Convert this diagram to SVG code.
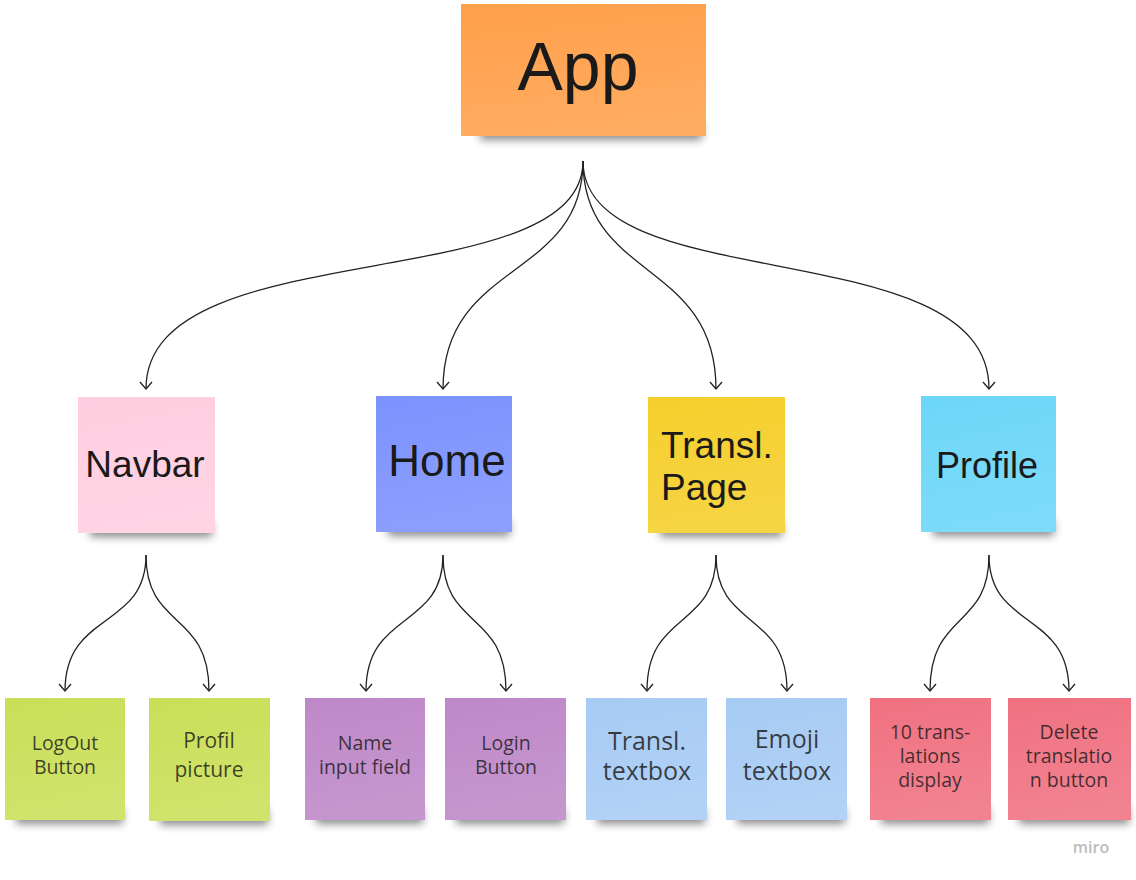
<svg xmlns="http://www.w3.org/2000/svg" width="1136" height="880" viewBox="0 0 1136 880">
<style>
.big{font-family:"Liberation Sans",Arial,sans-serif;fill:#1a1a1a}
.sm{font-family:"Open Sans","Noto Sans",sans-serif;fill:#1a1a1a;fill-opacity:0.82;text-anchor:middle}
.conn{fill:none;stroke:#222;stroke-width:1.3}
.shadow{fill:#000;opacity:0.45;filter:url(#blur)}
.sheen{fill:url(#sheen)}
</style>
<defs>
<filter id="blur" x="-20%" y="-100%" width="140%" height="300%"><feGaussianBlur stdDeviation="4"/></filter>
<linearGradient id="sheen" x1="0" y1="0" x2="0.2" y2="1">
<stop offset="0" stop-color="#fff" stop-opacity="0"/>
<stop offset="1" stop-color="#fff" stop-opacity="0.12"/>
</linearGradient>
<marker id="arr" markerUnits="userSpaceOnUse" markerWidth="16" markerHeight="16" viewBox="-9 -8 10 16" refX="0" refY="0" orient="auto">
<path d="M-7,-6 L0,0 L-7,6" fill="none" stroke="#222" stroke-width="1.3"/>
</marker>
</defs>
<rect width="1136" height="880" fill="#fff"/>

<g id="connectors">
<path class="conn" marker-end="url(#arr)" d="M583,161 C583,300 146,230 146,389"/>
<path class="conn" marker-end="url(#arr)" d="M583,161 C583,280 443,260 443,389"/>
<path class="conn" marker-end="url(#arr)" d="M583,161 C583,280 716,260 716,389"/>
<path class="conn" marker-end="url(#arr)" d="M583,161 C583,300 989,230 989,389"/>
<path class="conn" marker-end="url(#arr)" d="M146,555 C146,630 65,610 65,691"/>
<path class="conn" marker-end="url(#arr)" d="M146,555 C146,630 209,610 209,691"/>
<path class="conn" marker-end="url(#arr)" d="M443,555 C443,630 366,610 366,691"/>
<path class="conn" marker-end="url(#arr)" d="M443,555 C443,630 506,610 506,691"/>
<path class="conn" marker-end="url(#arr)" d="M716,555 C716,630 647,610 647,691"/>
<path class="conn" marker-end="url(#arr)" d="M716,555 C716,630 787,610 787,691"/>
<path class="conn" marker-end="url(#arr)" d="M989,555 C989,630 930,610 930,691"/>
<path class="conn" marker-end="url(#arr)" d="M989,555 C989,630 1069,610 1069,691"/>
</g>

<g id="app">
<rect class="shadow" x="480" y="124" width="222" height="16"/>
<rect x="461" y="4" width="245" height="132" fill="#FFA04B"/>
<rect class="sheen" x="461" y="4" width="245" height="132"/>
<text class="big" x="578" y="90" font-size="68" text-anchor="middle">App</text>
</g>

<g id="navbar">
<rect class="shadow" x="90" y="521" width="122" height="16"/>
<rect x="78" y="397" width="137" height="136" fill="#FFCEE0"/>
<rect class="sheen" x="78" y="397" width="137" height="136"/>
<text class="big" x="145" y="477" font-size="37" text-anchor="middle">Navbar</text>
</g>

<g id="home">
<rect class="shadow" x="388" y="520" width="122" height="16"/>
<rect x="376" y="396" width="136" height="136" fill="#7C92FE"/>
<rect class="sheen" x="376" y="396" width="136" height="136"/>
<text class="big" x="447" y="476" font-size="44" text-anchor="middle">Home</text>
</g>

<g id="transl-page">
<rect class="shadow" x="660" y="521" width="122" height="16"/>
<rect x="648" y="397" width="137" height="136" fill="#F5CF2B"/>
<rect class="sheen" x="648" y="397" width="137" height="136"/>
<text class="big" x="661" y="458" font-size="37">Transl.</text>
<text class="big" x="661" y="500" font-size="37">Page</text>
</g>

<g id="profile">
<rect class="shadow" x="933" y="520" width="121" height="16"/>
<rect x="921" y="396" width="135" height="136" fill="#6CD6F9"/>
<rect class="sheen" x="921" y="396" width="135" height="136"/>
<text class="big" x="987" y="478" font-size="36" text-anchor="middle">Profile</text>
</g>

<g id="logout">
<rect class="shadow" x="16" y="808" width="107" height="16"/>
<rect x="5" y="698" width="120" height="122" fill="#CADF58"/>
<rect class="sheen" x="5" y="698" width="120" height="122"/>
<text class="sm" x="65" y="750" font-size="19.5">LogOut</text>
<text class="sm" x="65" y="774" font-size="19.5">Button</text>
</g>

<g id="profil-picture">
<rect class="shadow" x="160" y="809" width="108" height="16"/>
<rect x="149" y="698" width="121" height="123" fill="#CADF58"/>
<rect class="sheen" x="149" y="698" width="121" height="123"/>
<text class="sm" x="209" y="748" font-size="21">Profil</text>
<text class="sm" x="209" y="777" font-size="21">picture</text>
</g>

<g id="name-input">
<rect class="shadow" x="316" y="808" width="107" height="16"/>
<rect x="305" y="698" width="120" height="122" fill="#BE88C8"/>
<rect class="sheen" x="305" y="698" width="120" height="122"/>
<text class="sm" x="365" y="750" font-size="19.5">Name</text>
<text class="sm" x="365" y="774" font-size="19.5">input field</text>
</g>

<g id="login">
<rect class="shadow" x="456" y="808" width="108" height="16"/>
<rect x="445" y="698" width="121" height="122" fill="#BE88C8"/>
<rect class="sheen" x="445" y="698" width="121" height="122"/>
<text class="sm" x="506" y="750" font-size="19.5">Login</text>
<text class="sm" x="506" y="774" font-size="19.5">Button</text>
</g>

<g id="transl-textbox">
<rect class="shadow" x="597" y="808" width="108" height="16"/>
<rect x="586" y="698" width="121" height="122" fill="#A7CBF4"/>
<rect class="sheen" x="586" y="698" width="121" height="122"/>
<text class="sm" x="647" y="750" font-size="25">Transl.</text>
<text class="sm" x="647" y="780" font-size="25">textbox</text>
</g>

<g id="emoji-textbox">
<rect class="shadow" x="737" y="808" width="108" height="16"/>
<rect x="726" y="698" width="121" height="122" fill="#A7CBF4"/>
<rect class="sheen" x="726" y="698" width="121" height="122"/>
<text class="sm" x="787" y="748" font-size="25">Emoji</text>
<text class="sm" x="787" y="780" font-size="25">textbox</text>
</g>

<g id="translations-display">
<rect class="shadow" x="881" y="808" width="108" height="16"/>
<rect x="870" y="698" width="121" height="122" fill="#F07181"/>
<rect class="sheen" x="870" y="698" width="121" height="122"/>
<text class="sm" x="930" y="739" font-size="19.5">10 trans-</text>
<text class="sm" x="930" y="763" font-size="19.5">lations</text>
<text class="sm" x="930" y="787" font-size="19.5">display</text>
</g>

<g id="delete-button">
<rect class="shadow" x="1019" y="808" width="110" height="16"/>
<rect x="1008" y="698" width="123" height="122" fill="#F07181"/>
<rect class="sheen" x="1008" y="698" width="123" height="122"/>
<text class="sm" x="1069" y="739" font-size="19.5">Delete</text>
<text class="sm" x="1069" y="763" font-size="19.5">translatio</text>
<text class="sm" x="1069" y="787" font-size="19.5">n button</text>
</g>

<text x="1091" y="853" font-family="'Open Sans',sans-serif" font-weight="600" font-size="16" fill="#bbbbbb" text-anchor="middle">miro</text>
</svg>
